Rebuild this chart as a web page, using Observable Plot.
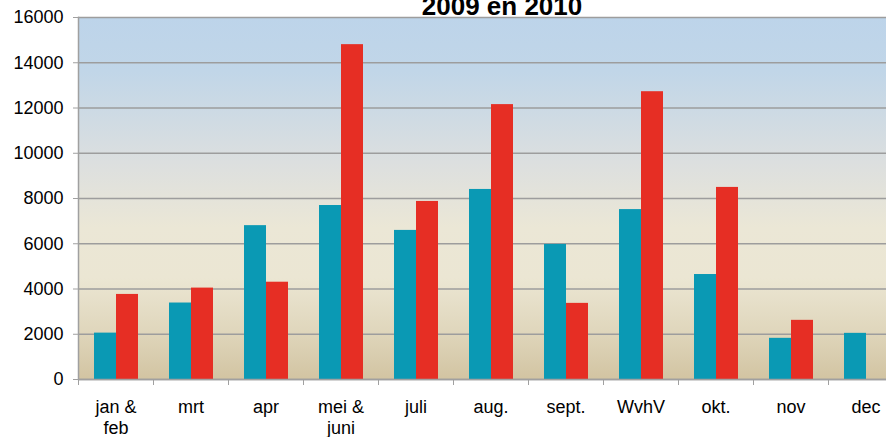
<!DOCTYPE html>
<html>
<head>
<meta charset="utf-8">
<script src="https://cdn.jsdelivr.net/npm/d3@7"></script>
<script src="https://cdn.jsdelivr.net/npm/@observablehq/plot@0.6"></script>
<style>
  html, body { margin: 0; padding: 0; background: #fff; overflow: hidden; }
  #chart { width: 886px; height: 437px; overflow: hidden; }
  #chart svg { max-width: none !important; display: block; }
</style>
</head>
<body>
<div id="chart"></div>
<script>
const title = "2009 en 2010";
const months = ["jan &\nfeb", "mrt", "apr", "mei &\njuni", "juli", "aug.", "sept.", "WvhV", "okt.", "nov", "dec"];
const series2009 = [2050, 3380, 6800, 7690, 6590, 8400, 5970, 7510, 4640, 1820, 2040];
const series2010 = [3760, 4040, 4300, 14800, 7870, 12150, 3365, 12720, 8490, 2615, null];
const yTicks = [0, 2000, 4000, 6000, 8000, 10000, 12000, 14000, 16000];

const colors = { y2009: "#0a99b4", y2010: "#e62e24", grid: "#9d9d9d", axis: "#a0a0a0" };

const rows = months.map((m, i) => ({ month: m, v2009: series2009[i], v2010: series2010[i] }));

const gradientDefs = () => {
  const defs = d3.create("svg:defs");
  const g = defs.append("linearGradient").attr("id", "bg")
    .attr("x1", 0).attr("y1", 0).attr("x2", 0).attr("y2", 1);
  [[0, "#bdd4ea"], [0.15, "#c1d6e8"], [0.4, "#dcdfdf"], [0.58, "#ebe7d6"], [0.72, "#ebe6d3"], [0.86, "#e0d7bd"], [1, "#d2c4a2"]]
    .forEach(([o, c]) => g.append("stop").attr("offset", o).attr("stop-color", c));
  return defs.node();
};

const plot = Plot.plot({
  width: 903,
  height: 437,
  marginLeft: 78,
  marginRight: 0,
  marginTop: 17,
  marginBottom: 58,
  style: { fontFamily: "'Liberation Sans', Arial, sans-serif", fontSize: "18px", color: "#000", background: "transparent", maxWidth: "none" },
  x: { domain: months, padding: 0, label: null },
  y: { domain: [0, 16000], label: null },
  marks: [
    gradientDefs,
    Plot.frame({ fill: "url(#bg)", stroke: null }),
    Plot.gridY(yTicks, { stroke: colors.grid, strokeOpacity: 1, strokeWidth: 1.5 }),
    Plot.barY(rows, { x: "month", y: "v2009", fill: colors.y2009, insetLeft: 16, insetRight: 37 }),
    Plot.barY(rows.filter(d => d.v2010 != null), { x: "month", y: "v2010", fill: colors.y2010, insetLeft: 38, insetRight: 15 }),
    Plot.ruleY([0], { stroke: colors.axis, strokeWidth: 1.5 }),
    Plot.frame({ anchor: "left", stroke: colors.axis, strokeWidth: 1.5 }),
    Plot.axisY({ ticks: yTicks, tickSize: 5, tickPadding: 10, stroke: colors.axis, tickFormat: d => String(d), fontSize: 18, label: null }),
    Plot.axisX({ tickSize: 0, tickPadding: 18, lineHeight: 1.2, fontSize: 18, label: null }),
    Plot.axisX({ tickSize: 6, tickFormat: () => "", dx: -37.5, stroke: colors.axis, label: null })
  ]
});

d3.select(plot).append("text")
  .attr("x", 502).attr("y", 14.5)
  .attr("text-anchor", "middle")
  .attr("font-size", 26).attr("font-weight", "bold")
  .attr("fill", "#000")
  .text(title);

document.getElementById("chart").appendChild(plot);
</script>
</body>
</html>
